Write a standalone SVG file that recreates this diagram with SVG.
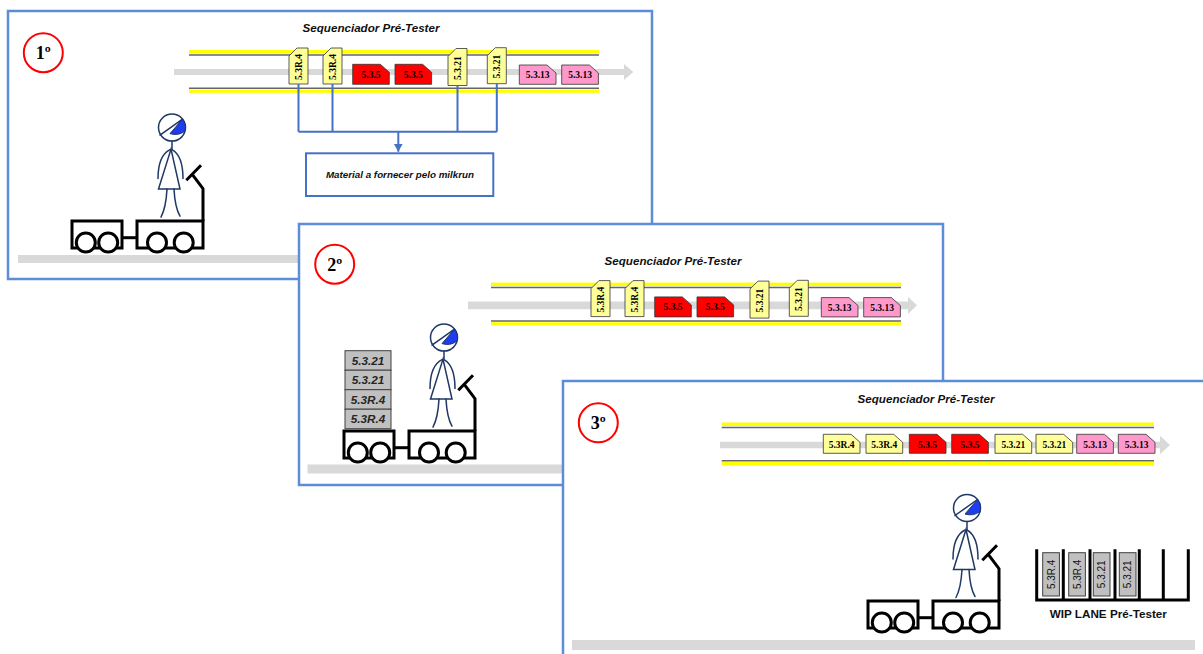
<svg xmlns="http://www.w3.org/2000/svg" xmlns:xlink="http://www.w3.org/1999/xlink" width="1203" height="654" viewBox="0 0 1203 654">
  <style>
    .frame { fill: #fff; stroke: #5b8dd8; stroke-width: 2.5; }
    .ground, .flow { fill: #d9d9d9; }
    .rail-y { fill: #ffff00; }
    .rail-g { stroke: #666; stroke-width: 1.5; }
    .title { font: italic bold 11.6px "Liberation Sans", Arial, sans-serif; text-anchor: middle; fill: #111; }
    .tag { stroke: #333; stroke-width: 0.8; }
    .yel { fill: #ffff99; }
    .red { fill: #ff0000; }
    .pink { fill: #ff99cc; }
    .tagtxt { font: bold 9.5px "Liberation Serif", "Times New Roman", serif; text-anchor: middle; fill: #000; }
    .badge { fill: #fff; stroke: #ff0000; stroke-width: 2; }
    .badgetxt { font: bold 18px "Liberation Serif", "Times New Roman", serif; text-anchor: middle; fill: #000; }
    .cartline { fill: #fff; stroke: #000; stroke-width: 3; }
    .op { fill: none; stroke: #1f3864; stroke-width: 1.5; stroke-linecap: round; }
    .link { fill: none; stroke: #4472c4; stroke-width: 2; }
    .note { font: italic bold 9.8px "Liberation Sans", Arial, sans-serif; text-anchor: middle; fill: #111; }
    .crate { fill: #c0c0c0; stroke: #404040; stroke-width: 1; }
    .cratetxt { font: italic bold 11.7px "Liberation Sans", Arial, sans-serif; text-anchor: middle; fill: #262626; }
    .lane { fill: none; stroke: #000; stroke-width: 3; }
    .lanetxt { font: 10px "Liberation Sans", Arial, sans-serif; text-anchor: middle; fill: #111; }
    .lanelabel { font: bold 11.7px "Liberation Sans", Arial, sans-serif; text-anchor: middle; fill: #111; }
  </style>
  <defs>
    <marker id="arrow-blue" markerUnits="userSpaceOnUse" markerWidth="10" markerHeight="10" refX="8" refY="5" orient="auto">
      <path d="M0,0.5 L8,5 L0,9.5 Z" fill="#4472c4"/>
    </marker>
    <!-- stick-figure operator, origin at head centre -->
    <g id="operator">
      <circle r="13.5" fill="#fff" stroke="#1f3864" stroke-width="1.5"/>
      <path d="M-2,6 L10.5,-8.5 A13.5,13.5 0 0 1 13,3.6 Q6,8.5 -2,6 Z" fill="#1f3cf0" stroke="#1f3864" stroke-width="1"/>
      <path class="op" d="M-12,7.5 L10.5,-8.5"/>
      <path class="op" d="M0,13.5 V21.5"/>
      <path class="op" d="M-1,21.5 L-13.5,61.5 H8 Z"/>
      <path class="op" d="M-2,22 Q-14,28 -14,51 M0,22 Q11,28 11,51"/>
      <path class="op" d="M-5,61.5 Q-6,80 -11,89.5 M2,61.5 Q3,80 8,88.5"/>
    </g>
    <!-- milkrun tugger with trailer, origin at trailer top-left -->
    <g id="cart">
      <rect class="cartline" x="0" y="0" width="50" height="27"/>
      <rect class="cartline" x="65" y="0" width="66" height="27"/>
      <path class="cartline" d="M50,16.7 H65" fill="none"/>
      <path class="cartline" fill="none" d="M131,0 V-32.3 L121,-45.7 M114.3,-40.7 L129,-55.7"/>
      <circle class="cartline" cx="13.8" cy="21.5" r="9.5"/>
      <circle class="cartline" cx="36.2" cy="21.5" r="9.5"/>
      <circle class="cartline" cx="85" cy="21.5" r="9.5"/>
      <circle class="cartline" cx="111.7" cy="21.5" r="9.5"/>
    </g>
    <!-- sequencer lane with kanban tags (used in steps 1 and 2) -->
    <g id="seq-track">
      <text class="title" x="371" y="32">Sequenciador Pré-Tester</text>
      <rect class="rail-y" x="189" y="50" width="410" height="3.5"/>
      <line class="rail-g" x1="189" y1="55" x2="599" y2="55"/>
      <line class="rail-g" x1="189" y1="88.3" x2="599" y2="88.3"/>
      <rect class="rail-y" x="189" y="89.6" width="410" height="3.2"/>
      <path class="tag yel" d="M297,48 H308 V84 H289 V56 Z"/>
      <text class="tagtxt" transform="translate(298.5,67) rotate(-90)" y="3.2">5.3R.4</text>
      <path class="tag yel" d="M331,48 H342 V84 H323 V56 Z"/>
      <text class="tagtxt" transform="translate(332.5,67) rotate(-90)" y="3.2">5.3R.4</text>
      <path class="tag red" d="M352.7,64.3 H380.3 L389.3,72.3 V84.3 H352.7 Z"/>
      <text class="tagtxt" x="371" y="77.7">5.3.5</text>
      <path class="tag red" d="M395,64.3 H422.6 L431.6,72.3 V84.3 H395 Z"/>
      <text class="tagtxt" x="413.3" y="77.7">5.3.5</text>
      <path class="tag yel" d="M456,48.5 H467 V85.5 H448 V56.5 Z"/>
      <text class="tagtxt" transform="translate(457.5,68) rotate(-90)" y="3.2">5.3.21</text>
      <path class="tag yel" d="M495.3,47.7 H506.3 V83.7 H487.3 V55.7 Z"/>
      <text class="tagtxt" transform="translate(496.8,66.5) rotate(-90)" y="3.2">5.3.21</text>
      <path class="tag pink" d="M519.3,65 H547 L556,73 V84.3 H519.3 Z"/>
      <text class="tagtxt" x="537.7" y="78.2">5.3.13</text>
      <path class="tag pink" d="M561.7,65 H589.4 L598.4,73 V84.3 H561.7 Z"/>
      <text class="tagtxt" x="580" y="78.2">5.3.13</text>
    </g>
  </defs>

  <!-- Step 1: tags pulled from the sequencer -->
  <g id="step1">
    <rect class="frame" x="8" y="11" width="644" height="268"/>
    <rect class="ground" x="18" y="255" width="282" height="8"/>
    <path class="flow" d="M174,69 H624 V64 L633.3,72 L624,80 V75 H174 Z"/>
    <use xlink:href="#seq-track" href="#seq-track"/>
    <g id="milkrun-box">
      <rect x="306" y="153.3" width="187.3" height="42.7" fill="#fff" stroke="#4472c4" stroke-width="2"/>
      <text class="note" x="400" y="177.7">Material a fornecer pelo milkrun</text>
    </g>
    <g id="badge1">
      <circle class="badge" cx="43.3" cy="52.7" r="19.5"/>
      <text class="badgetxt" x="43.3" y="59.3">1º</text>
    </g>
    <use id="cart1" xlink:href="#cart" href="#cart" transform="translate(72,221)"/>
    <use id="operator1" xlink:href="#operator" href="#operator" transform="translate(172,127.6)"/>
  </g>

  <g id="connectors">
    <path class="link" d="M298.5,84 V131.7 M332.5,84 V131.7 M457.5,85.5 V131.7 M496.8,83.7 V131.7 M298.5,131.7 H496.8"/>
    <path class="link" d="M398.3,131.7 V151.7" marker-end="url(#arrow-blue)"/>
  </g>

  <!-- Step 2: milkrun loaded with the material -->
  <g id="step2">
    <rect class="frame" x="299" y="224" width="644" height="261"/>
    <rect class="ground" x="307.5" y="464.5" width="258" height="9"/>
    <path class="flow" d="M468,301.5 H908 V296.7 L917,305.3 L908,314 V309.2 H468 Z"/>
    <use xlink:href="#seq-track" href="#seq-track" transform="translate(302,232.6)"/>
    <g id="badge2">
      <circle class="badge" cx="334.7" cy="264.2" r="19.5"/>
      <text class="badgetxt" x="334.7" y="270.8">2º</text>
    </g>
    <g id="load">
      <rect class="crate" x="345" y="350.7" width="46" height="19.5"/>
      <text class="cratetxt" x="368" y="364.6">5.3.21</text>
      <rect class="crate" x="345" y="370.2" width="46" height="19.5"/>
      <text class="cratetxt" x="368" y="384.1">5.3.21</text>
      <rect class="crate" x="345" y="389.7" width="46" height="19.5"/>
      <text class="cratetxt" x="368" y="403.6">5.3R.4</text>
      <rect class="crate" x="345" y="409.2" width="46" height="19.5"/>
      <text class="cratetxt" x="368" y="423.1">5.3R.4</text>
    </g>
    <use id="cart2" xlink:href="#cart" href="#cart" transform="translate(344,431)"/>
    <use id="operator2" xlink:href="#operator" href="#operator" transform="translate(444,337.6)"/>
  </g>

  <!-- Step 3: material delivered to the WIP lane -->
  <g id="step3">
    <rect class="frame" x="563" y="381" width="660" height="300"/>
    <rect class="ground" x="572" y="640" width="623" height="10"/>
    <g id="seq-track3">
      <text class="title" x="926" y="403.3">Sequenciador Pré-Tester</text>
      <rect class="rail-y" x="721.7" y="422.5" width="432.3" height="3.5"/>
      <line class="rail-g" x1="721.7" y1="427.5" x2="1154" y2="427.5"/>
      <line class="rail-g" x1="721.7" y1="460.8" x2="1154" y2="460.8"/>
      <rect class="rail-y" x="721.7" y="462" width="432.3" height="3.5"/>
      <path class="flow" d="M720,441.7 H1160 V435.7 L1170,445 L1160,454.3 V448.3 H720 Z"/>
      <path class="tag yel" d="M823.3,434.3 H851 L860,442.3 V453.3 H823.3 Z"/>
      <text class="tagtxt" x="841.6" y="447.5">5.3R.4</text>
      <path class="tag yel" d="M866,434.3 H893.7 L902.7,442.3 V453.3 H866 Z"/>
      <text class="tagtxt" x="884.3" y="447.5">5.3R.4</text>
      <path class="tag red" d="M909.3,434.3 H937 L946,442.3 V453.3 H909.3 Z"/>
      <text class="tagtxt" x="927.6" y="447.5">5.3.5</text>
      <path class="tag red" d="M951.7,434.3 H979.4 L988.4,442.3 V453.3 H951.7 Z"/>
      <text class="tagtxt" x="970" y="447.5">5.3.5</text>
      <path class="tag yel" d="M995,434.3 H1022.7 L1031.7,442.3 V453.3 H995 Z"/>
      <text class="tagtxt" x="1013.3" y="447.5">5.3.21</text>
      <path class="tag yel" d="M1036,434.3 H1063.7 L1072.7,442.3 V453.3 H1036 Z"/>
      <text class="tagtxt" x="1054.3" y="447.5">5.3.21</text>
      <path class="tag pink" d="M1076.7,434.3 H1104.4 L1113.4,442.3 V453.3 H1076.7 Z"/>
      <text class="tagtxt" x="1095" y="447.5">5.3.13</text>
      <path class="tag pink" d="M1118.3,434.3 H1146 L1155,442.3 V453.3 H1118.3 Z"/>
      <text class="tagtxt" x="1136.6" y="447.5">5.3.13</text>
    </g>
    <g id="badge3">
      <circle class="badge" cx="598.3" cy="422.8" r="19.5"/>
      <text class="badgetxt" x="598.3" y="429.4">3º</text>
    </g>
    <g id="wip-lane">
      <path class="lane" d="M1036.7,549.3 V600 H1188.3 V549.3 M1063.3,549.3 V600 M1090,549.3 V600 M1115,549.3 V600 M1139.3,549.3 V600 M1163.3,549.3 V600"/>
      <rect class="crate" x="1042.7" y="552.7" width="16.7" height="43.3"/>
      <text class="lanetxt" transform="translate(1051,574.3) rotate(-90)" y="3.5">5.3R.4</text>
      <rect class="crate" x="1068.7" y="552.7" width="16.7" height="43.3"/>
      <text class="lanetxt" transform="translate(1077,574.3) rotate(-90)" y="3.5">5.3R.4</text>
      <rect class="crate" x="1093.3" y="552.7" width="16.7" height="43.3"/>
      <text class="lanetxt" transform="translate(1101.7,574.3) rotate(-90)" y="3.5">5.3.21</text>
      <rect class="crate" x="1119.3" y="552.7" width="16.7" height="43.3"/>
      <text class="lanetxt" transform="translate(1127.7,574.3) rotate(-90)" y="3.5">5.3.21</text>
      <text class="lanelabel" x="1108.3" y="618.3">WIP LANE Pré-Tester</text>
    </g>
    <use id="cart3" xlink:href="#cart" href="#cart" transform="translate(868,601)"/>
    <use id="operator3" xlink:href="#operator" href="#operator" transform="translate(967,508)"/>
  </g>
</svg>
